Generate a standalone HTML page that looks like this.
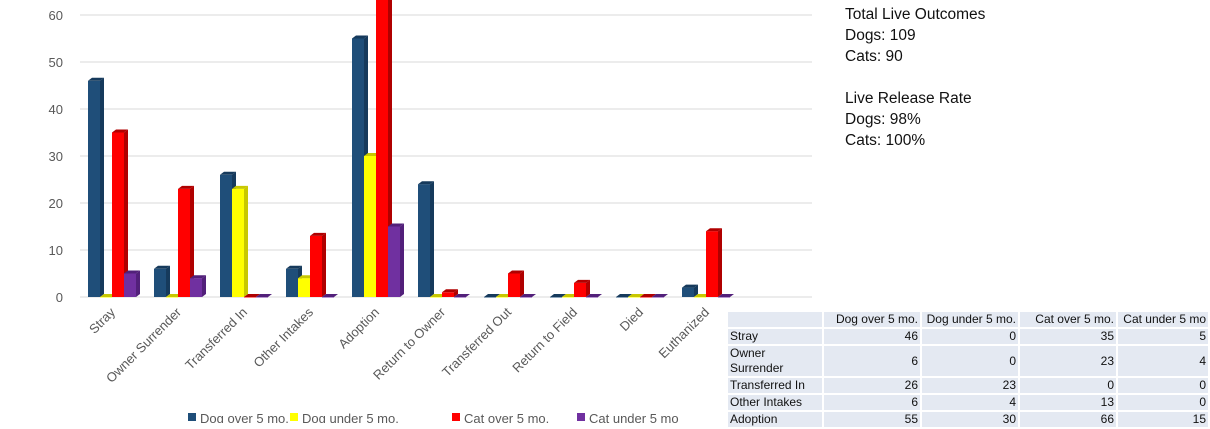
<!DOCTYPE html>
<html><head><meta charset="utf-8"><style>
body{margin:0;width:1210px;height:423px;overflow:hidden;background:#fff;font-family:"Liberation Sans",sans-serif;position:relative}
#stats{position:absolute;left:845px;top:4px;font-size:15.5px;line-height:21px;color:#111}
table{position:absolute;left:726px;top:310px;border-collapse:collapse;font-size:12px;color:#111}
td{background:#e4e9f2;border:2px solid #fff;padding:0 2px;height:15px;line-height:15px;text-align:right}
td:first-child{text-align:left;width:90px}
td.n{width:92px}
</style></head><body>
<svg id="chart" width="820" height="423" style="position:absolute;left:0;top:0"></svg>
<div id="stats">Total Live Outcomes<br>Dogs: 109<br>Cats: 90<br><br>Live Release Rate<br>Dogs: 98%<br>Cats: 100%</div>
<table>
<tr><td></td><td class="n">Dog over 5 mo.</td><td class="n">Dog under 5 mo.</td><td class="n">Cat over 5 mo.</td><td class="n" style="width:86px">Cat under 5 mo</td></tr>
<tr><td>Stray</td><td>46</td><td>0</td><td>35</td><td>5</td></tr>
<tr><td>Owner Surrender</td><td>6</td><td>0</td><td>23</td><td>4</td></tr>
<tr><td>Transferred In</td><td>26</td><td>23</td><td>0</td><td>0</td></tr>
<tr><td>Other Intakes</td><td>6</td><td>4</td><td>13</td><td>0</td></tr>
<tr><td>Adoption</td><td>55</td><td>30</td><td>66</td><td>15</td></tr>
</table>
<script>
const categories=["Stray","Owner Surrender","Transferred In","Other Intakes","Adoption","Return to Owner","Transferred Out","Return to Field","Died","Euthanized"];
const dogOver=[46,6,26,6,55,24,0,0,0,2];
const dogUnder=[0,0,23,4,30,0,0,0,0,0];
const catOver=[35,23,0,13,66,1,5,3,0,14];
const catUnder=[5,4,0,0,15,0,0,0,0,0];
const seriesNames=["Dog over 5 mo.","Dog under 5 mo.","Cat over 5 mo.","Cat under 5 mo"];
const yTicks=[0,10,20,30,40,50,60];
const series=[dogOver,dogUnder,catOver,catUnder];
const colors=[["#1f4e79","#163a5c"],["#ffff00","#c8c800"],["#ff0000","#b00000"],["#7030a0","#52207a"]];
const svg=document.getElementById('chart');const NS="http://www.w3.org/2000/svg";
function el(t,a,p){const e=document.createElementNS(NS,t);for(const k in a)e.setAttribute(k,a[k]);(p||svg).appendChild(e);return e;}
const y=v=>297-v*4.7;
const x=i=>88+i*66;
yTicks.forEach(t=>{
 const g=el('line',{x1:80,x2:812,y1:y(t),y2:y(t),stroke:'#d9d9d9','stroke-width':1});
 
 
 const l=el('text',{x:63,y:y(t)+5,'text-anchor':'end','font-size':13,fill:'#595959','font-family':'Liberation Sans'});
 l.textContent=t;
 
 
});
categories.forEach((c,i)=>{
 series.forEach((s,j)=>{
  const bx=x(i)+j*12,top=y(s[i]),w=12,d=4;
  const g=el('g',{});
  
  
  el('rect',{x:bx,y:top,width:w,height:Math.max(297-top,0.5),fill:colors[j][0]},g);
  el('polygon',{points:`${bx+w},${top} ${bx+w+d},${top-3} ${bx+w+d},${297-3} ${bx+w},297`,fill:colors[j][1]},g);
  el('polygon',{points:`${bx},${top} ${bx+d},${top-3} ${bx+w+d},${top-3} ${bx+w},${top}`,fill:colors[j][1]},g);
 });
 const cx=x(i)+28;
 const t=el('text',{x:cx,y:313,'text-anchor':'end','font-size':13,fill:'#595959','font-family':'Liberation Sans',transform:`rotate(-45 ${cx} 313)`});
 t.textContent=c;
 
 
});
const lx=[188,290,452,577];
seriesNames.forEach((n,j)=>{
 const g=el('g',{});
 
 
 el('rect',{x:lx[j],y:413,width:8,height:8,fill:colors[j][0]},g);
 const t=el('text',{x:lx[j]+12,y:423,'font-size':13,fill:'#595959','font-family':'Liberation Sans'},g);
 t.textContent=n;
});
</script>
</body></html>
